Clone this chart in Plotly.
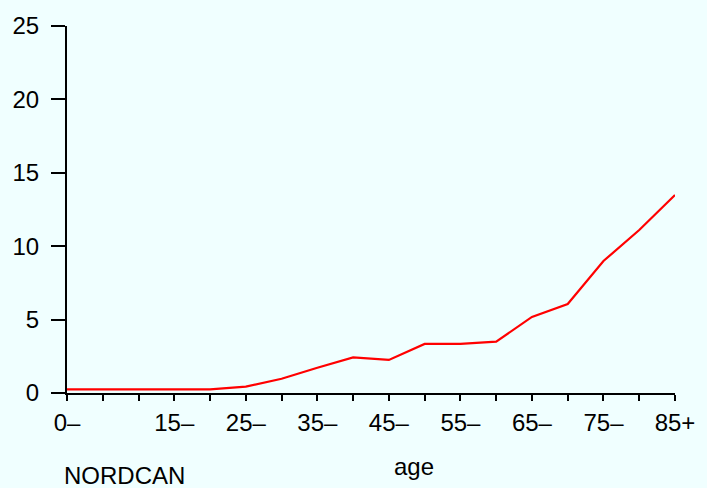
import plotly.graph_objects as go

age_groups = ["0–", "5–", "10–", "15–", "20–", "25–", "30–", "35–", "40–",
              "45–", "50–", "55–", "60–", "65–", "70–", "75–", "80–", "85+"]
rates = [0.25, 0.25, 0.25, 0.25, 0.25, 0.43, 0.97, 1.72, 2.43,
         2.25, 3.34, 3.34, 3.5, 5.18, 6.06, 8.99, 11.1, 13.49]
shown_labels = ["0–", "15–", "25–", "35–", "45–", "55–", "65–", "75–", "85+"]
y_ticks = [0, 5, 10, 15, 20, 25]

xpos = list(range(len(age_groups)))
ticktext = [a if a in shown_labels else "" for a in age_groups]

bg = "#F0FFFF"
font = dict(family="Liberation Sans, Arial, sans-serif", size=24, color="black")

fig = go.Figure()
fig.add_trace(go.Scatter(x=xpos, y=rates, mode="lines",
                         line=dict(color="#FF0000", width=2.2),
                         showlegend=False, hoverinfo="skip"))

fig.update_layout(
    width=707, height=488,
    margin=dict(l=64, r=32, t=26, b=95),
    paper_bgcolor=bg, plot_bgcolor=bg,
    font=font,
    xaxis=dict(range=[0, len(age_groups) - 1], tickmode="array",
               tickvals=xpos, ticktext=ticktext,
               showgrid=False, zeroline=False,
               showline=True, linecolor="black", linewidth=2,
               ticks="outside", ticklen=6, tickwidth=2, tickcolor="black",
               ticklabelstandoff=1, tickfont=font),
    yaxis=dict(range=[0, 25], tickmode="array", tickvals=y_ticks,
               showgrid=False, zeroline=False,
               showline=True, linecolor="black", linewidth=2,
               ticks="outside", ticklen=14, tickwidth=2, tickcolor="black",
               ticklabelstandoff=7, tickfont=font),
    annotations=[
        dict(text="age", xref="paper", yref="paper", x=0.571, y=-0.199,
             xanchor="center", yanchor="middle", showarrow=False, font=font),
        dict(text="NORDCAN", xref="paper", yref="paper", x=-0.008, y=-0.226,
             xanchor="left", yanchor="middle", showarrow=False, font=font),
    ],
)

fig.write_html(
    "out.html",
    config={"displayModeBar": False},
    post_script="document.body.style.margin='0';document.body.style.padding='0';"
                "document.body.style.background='#F0FFFF';"
                "document.body.style.overflow='hidden';",
)
